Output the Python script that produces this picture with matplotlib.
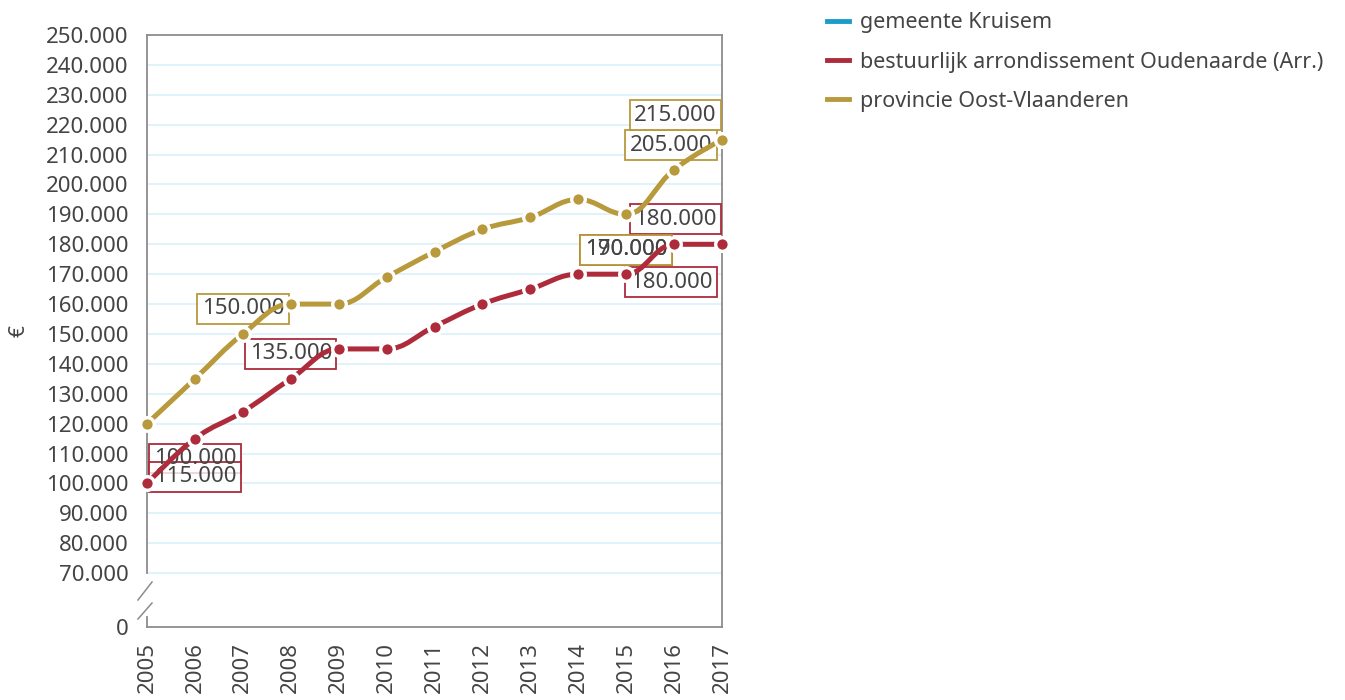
import numpy as np
import matplotlib.pyplot as plt
from matplotlib.path import Path
from matplotlib.patches import PathPatch
from matplotlib.lines import Line2D

plt.rcParams['font.family'] = ['Noto Sans', 'DejaVu Sans']

years = list(range(2005, 2018))
oudenaarde = [100000, 115000, 124000, 135000, 145000, 145000, 152500,
              160000, 165000, 170000, 170000, 180000, 180000]
oost_vl = [120000, 135000, 150000, 160000, 160000, 169000, 177500,
           185000, 189000, 195000, 190000, 205000, 215000]
y_ticks = [0] + list(range(70000, 250001, 10000))

names = ["gemeente Kruisem",
         "bestuurlijk arrondissement Oudenaarde (Arr.)",
         "provincie Oost-Vlaanderen"]
c_kruisem = "#1b9cc9"
c_arr = "#ad2b3b"
c_prov = "#b8993b"
c_text = "#444444"

# which points get a value label, and where the box sits (pixels from the point)
arr_labels = {2005: (48, 25), 2006: (0, -38), 2008: (0, 25),
              2015: (0, 24.5), 2016: (-3, -38), 2017: (-46.5, 25)}
prov_labels = {2007: (0, 25), 2015: (0, -35.5), 2016: (-3, 24.5),
               2017: (-46.5, 24.5)}


def fmt(v):
    return f"{v:,.0f}".replace(",", ".")


# broken axis: everything below 70.000 squeezed into a short strip
def fwd(v):
    v = np.asarray(v, dtype=float)
    return np.where(v >= 70000, v, 52000 + v * 18000 / 70000)


def inv(s):
    s = np.asarray(s, dtype=float)
    return np.where(s >= 70000, s, (s - 52000) * 70000 / 18000)


def spline_path(xs, ys, smoothing=1.5):
    # bezier spline with clamped control points (no overshoot)
    n = len(xs)
    denom = smoothing + 1
    lc = [(xs[0], ys[0])] * n
    rc = [(xs[-1], ys[-1])] * n
    for i in range(1, n - 1):
        px, py = xs[i], ys[i]
        lx, ly = xs[i - 1], ys[i - 1]
        nx, ny = xs[i + 1], ys[i + 1]
        lcx = (smoothing * px + lx) / denom
        lcy = (smoothing * py + ly) / denom
        rcx = (smoothing * px + nx) / denom
        rcy = (smoothing * py + ny) / denom
        corr = (rcy - lcy) * (rcx - px) / (rcx - lcx) + py - rcy
        lcy += corr
        rcy += corr
        if lcy > ly and lcy > py:
            lcy = max(ly, py)
            rcy = 2 * py - lcy
        elif lcy < ly and lcy < py:
            lcy = min(ly, py)
            rcy = 2 * py - lcy
        if rcy > ny and rcy > py:
            rcy = max(ny, py)
            lcy = 2 * py - rcy
        elif rcy < ny and rcy < py:
            rcy = min(ny, py)
            lcy = 2 * py - rcy
        lc[i] = (lcx, lcy)
        rc[i] = (rcx, rcy)
    rc[0] = (xs[0], ys[0])
    lc[-1] = (xs[-1], ys[-1])
    verts = [(xs[0], ys[0])]
    codes = [Path.MOVETO]
    for i in range(1, n):
        verts += [rc[i - 1], lc[i], (xs[i], ys[i])]
        codes += [Path.CURVE4] * 3
    return Path(verts, codes)


fig = plt.figure(figsize=(13.45, 7), dpi=100)
ax = fig.add_axes([147 / 1345, 73 / 700, 575 / 1345, 592 / 700])
ax.set_yscale('function', functions=(fwd, inv))
ax.set_xlim(2005, 2017)
ax.set_ylim(0, 250000)

for v in y_ticks:
    if v > 0 and v < 250000:
        ax.axhline(v, color="#dcf1f9", lw=1.2, zorder=1)

for vals, col, labels in [(oudenaarde, c_arr, arr_labels),
                          (oost_vl, c_prov, prov_labels)]:
    ax.add_patch(PathPatch(spline_path(years, vals), facecolor="none",
                           edgecolor=col, lw=3.6, capstyle="butt",
                           zorder=4, clip_on=False))
    ax.plot(years, vals, ls="none", marker="o", ms=9.8, mfc=col,
            mec="white", mew=2.4, zorder=5, clip_on=False)
    for yr, (dx, dy) in labels.items():
        v = vals[years.index(yr)]
        # box first, text on its own layer so overlapping labels stay readable
        ax.annotate(fmt(v), (yr, v), xytext=(dx, dy),
                    textcoords="offset pixels", ha="center", va="center",
                    fontsize=16, color="none", zorder=3,
                    bbox=dict(boxstyle="square,pad=0.2", fc=(1, 1, 1, 0.8),
                              ec=col, lw=1.3))
        ax.annotate(fmt(v), (yr, v), xytext=(dx, dy),
                    textcoords="offset pixels", ha="center", va="center",
                    fontsize=16, color=c_text, zorder=3.5)

ax.set_yticks(y_ticks)
ax.set_yticklabels([fmt(v) for v in y_ticks])
ax.set_xticks(years)
ax.set_xticklabels([str(y) for y in years], rotation=90)
ax.tick_params(axis="y", length=0, pad=13.5, labelsize=16, labelcolor=c_text)
ax.tick_params(axis="x", length=0, pad=11, labelsize=16, labelcolor=c_text)
ax.set_ylabel("€", fontsize=15, color=c_text)
ax.yaxis.set_label_coords(-0.205, 0.5)

spine_col = "#8c8c8c"
for s in ["top", "right", "bottom"]:
    ax.spines[s].set_color(spine_col)
    ax.spines[s].set_linewidth(1.3)
ax.spines["left"].set_visible(False)
# left spine in two pieces with the break marks between them
ax.plot([0, 0], [fwd(70000), 250000], color=spine_col, lw=1.3,
        transform=ax.get_yaxis_transform(), clip_on=False, zorder=2)
ax.plot([0, 0], [0, 0.017], color=spine_col, lw=1.3,
        transform=ax.transAxes, clip_on=False)
for y0, y1 in [(0.0456, 0.076), (0.0135, 0.0405)]:
    ax.plot([-0.0157, 0.0087], [y0, y1], color=spine_col, lw=1.1,
            transform=ax.transAxes, clip_on=False)

handles = [Line2D([], [], color=c, lw=3.5) for c in (c_kruisem, c_arr, c_prov)]
fig.legend(handles, names, loc="upper left", bbox_to_anchor=(808 / 1345, 1.01),
           frameon=False, fontsize=15.5, labelcolor=c_text, handlelength=1.0,
           handletextpad=0.5, labelspacing=0.85)

fig.savefig("out.png", dpi=100)
